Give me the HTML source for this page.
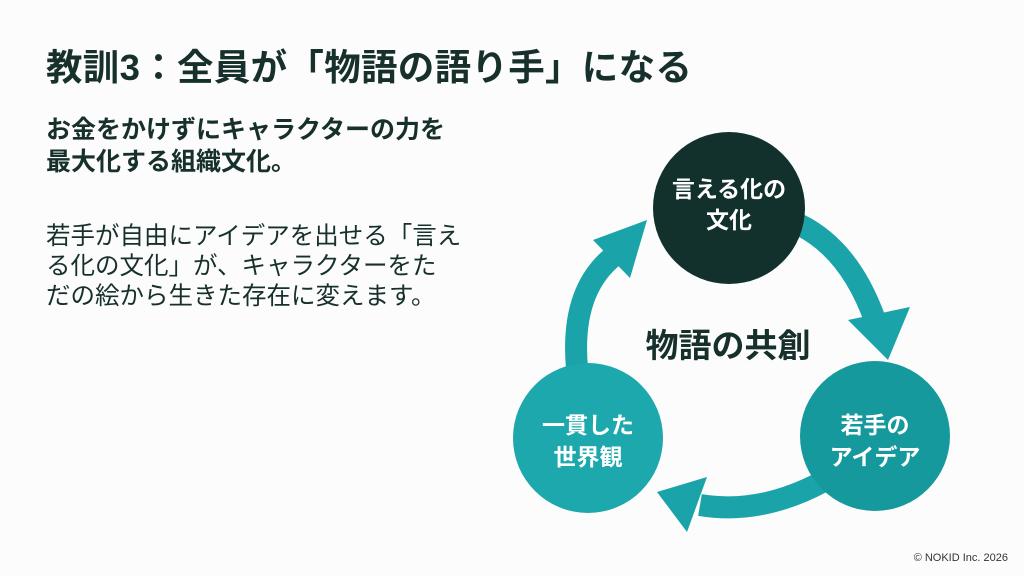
<!DOCTYPE html>
<html><head><meta charset="utf-8"><style>
body{margin:0;width:1024px;height:576px;background:#fbfcfb;overflow:hidden;position:relative;font-family:"Liberation Sans","Noto Sans CJK JP",sans-serif;color:#17302c}
.t{position:absolute;left:46px;top:38px;font-size:36.5px;font-weight:bold;white-space:nowrap;letter-spacing:0.3px}
.b{position:absolute;left:46px;top:114px;font-size:25px;font-weight:bold;line-height:32px;white-space:nowrap}
.r{position:absolute;left:46px;top:222px;font-size:24.5px;line-height:30px;white-space:nowrap}
.c{position:absolute;right:16px;bottom:12px;font-size:11px;color:#333}
</style></head><body>
<div class="t">教訓3：全員が「物語の語り手」になる</div>
<div class="b">お金をかけずにキャラクターの力を<br>最大化する組織文化。</div>
<div class="r">若手が自由にアイデアを出せる「言え<br>る化の文化」が、キャラクターをた<br>だの絵から生きた存在に変えます。</div>
<div class="c">© NOKID Inc. 2026</div>
<svg width="1024" height="576" style="position:absolute;left:0;top:0" font-family="Liberation Sans, Noto Sans CJK JP, sans-serif">
<g fill="none" stroke="#1aa3a8" stroke-width="22">
<path d="M800 225 Q850 250 875 320"/>
<path d="M822 482 Q760 515 700 505"/>
<path d="M577 368 Q570 290 615 255"/>
</g>
<g fill="#1aa3a8">
<polygon points="848,320 910,307 888,360"/>
<polygon points="707,477 687,532 657,492"/>
<polygon points="593,240 630,278 647,220"/>
</g>
<circle cx="729" cy="208" r="76" fill="#12302c"/>
<circle cx="875" cy="436" r="75" fill="#15999d"/>
<circle cx="588" cy="438" r="75" fill="#1ca8ac"/>
<g fill="#fff" font-weight="bold" font-size="23" text-anchor="middle">
<text x="729" y="197">言える化の</text><text x="729" y="228">文化</text>
<text x="875" y="433">若手の</text><text x="875" y="465">アイデア</text>
<text x="588" y="433">一貫した</text><text x="588" y="465">世界観</text>
</g>
<text x="728" y="357" text-anchor="middle" font-size="33" font-weight="bold" fill="#17302c">物語の共創</text>
</svg>
</body></html>
